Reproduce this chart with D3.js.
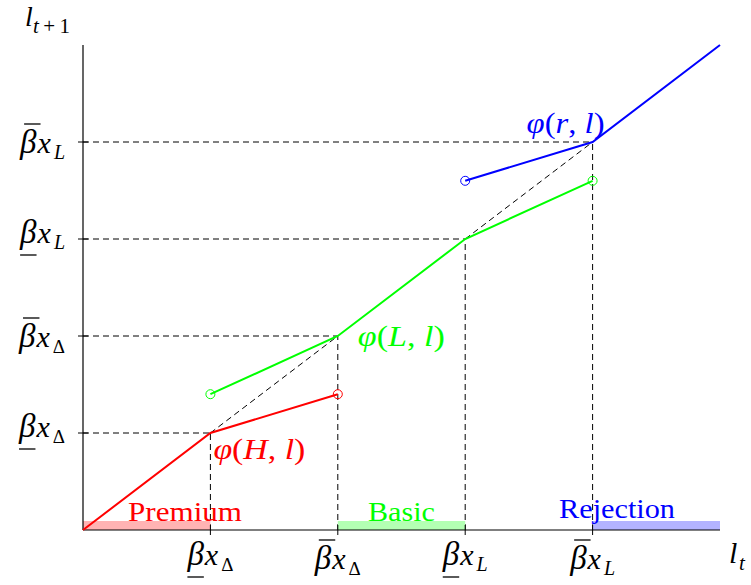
<!DOCTYPE html>
<html>
<head>
<meta charset="utf-8">
<script src="https://cdn.jsdelivr.net/npm/d3@7"></script>
<style>
  html, body { margin: 0; padding: 0; background: #fff; }
  svg { display: block; }
</style>
</head>
<body>
<svg id="chart" width="751" height="585"></svg>
<script>
// ---------- data ----------
const tickValues = [1, 2, 3, 4];
const tickBars = ["under", "over", "under", "over"];
const tickSubs = ["Δ", "Δ", "L", "L"];

const redLine = [[0, 0], [1, 1], [2, 1.4]];
const redOpen = [[2, 1.4]];
const greenLine = [[1, 1.4], [2, 2], [3, 3], [4, 3.6]];
const greenOpen = [[1, 1.4], [4, 3.6]];
const blueLine = [[3, 3.6], [4, 4], [5, 5]];
const blueOpen = [[3, 3.6]];
const diagonals = [[[1, 1], [2, 2]], [[3, 3], [4, 4]]];

const regionNames = ["Premium", "Basic", "Rejection"];
const regionStarts = [0, 2, 4];
const regionEnds = [1, 3, 5];

const curveLabelTexts = ["H", "L", "r"];
const curveLabelAnchors = [[1, 1], [2, 2], [4, 4]];

// ---------- setup ----------
const FONT = "'Liberation Serif', 'DejaVu Serif', serif";
const RED = "#ff0000", GREEN = "#00ff00", BLUE = "#0000ff";
const colors = [RED, GREEN, BLUE];
const fills = ["#ffb3b3", "#b3ffb3", "#b3b3ff"];

const svg = d3.select("#chart");
const x = d3.scaleLinear().domain([0, 5]).range([83, 720]);
const y = d3.scaleLinear().domain([0, 5]).range([530, 45]);
const line = d3.line().x(d => x(d[0])).y(d => y(d[1]));

// dashed guide lines
const guides = svg.append("g").attr("stroke", "#000").attr("stroke-width", 1)
  .attr("stroke-dasharray", "6,4").attr("fill", "none");
tickValues.forEach(v => {
  guides.append("line").attr("x1", x(0)).attr("x2", x(v)).attr("y1", y(v)).attr("y2", y(v));
  guides.append("line").attr("x1", x(v)).attr("x2", x(v)).attr("y1", y(0)).attr("y2", y(v));
});
diagonals.forEach(d => guides.append("path").attr("d", line(d)));

// region bars
regionNames.forEach((name, i) => {
  svg.append("rect")
    .attr("x", x(regionStarts[i])).attr("width", x(regionEnds[i]) - x(regionStarts[i]))
    .attr("y", y(0) - 9).attr("height", 9).attr("fill", fills[i]);
});

// axes
svg.append("line").attr("x1", x(0)).attr("x2", x(5)).attr("y1", y(0)).attr("y2", y(0))
  .attr("stroke", "#000").attr("stroke-width", 1.2);
svg.append("line").attr("x1", x(0)).attr("x2", x(0)).attr("y1", y(0)).attr("y2", y(5))
  .attr("stroke", "#000").attr("stroke-width", 1.2);
tickValues.forEach(v => {
  svg.append("line").attr("x1", x(v)).attr("x2", x(v)).attr("y1", y(0) - 5).attr("y2", y(0) + 5)
    .attr("stroke", "#000").attr("stroke-width", 1);
  svg.append("line").attr("x1", x(0) - 5).attr("x2", x(0) + 5).attr("y1", y(v)).attr("y2", y(v))
    .attr("stroke", "#000").attr("stroke-width", 1);
});

// region labels
const regionLeft = [128, 368, 559];
const regionWidth = [114, 67, 116];
const regionBaselines = [521, 521, 518];
regionNames.forEach((name, i) => {
  svg.append("text").attr("x", regionLeft[i]).attr("y", regionBaselines[i])
    .attr("font-family", FONT).attr("font-size", 27)
    .attr("textLength", regionWidth[i]).attr("lengthAdjust", "spacingAndGlyphs")
    .attr("fill", colors[i]).text(name);
});

// curves
[[redLine, redOpen], [greenLine, greenOpen], [blueLine, blueOpen]].forEach(([ln, op], i) => {
  svg.append("path").attr("d", line(ln)).attr("fill", "none")
    .attr("stroke", colors[i]).attr("stroke-width", 2);
  op.forEach(p => svg.append("circle").attr("cx", x(p[0])).attr("cy", y(p[1])).attr("r", 4.5)
    .attr("fill", "none").attr("stroke", colors[i]).attr("stroke-width", 1));
});

// curve labels φ(·,l)
const labelOffsets = [[3, 26], [20, 10], [-66, -9]];
const labelWidths = [92, 87, 78];
curveLabelTexts.forEach((lab, i) => {
  const a = curveLabelAnchors[i];
  const t = svg.append("text").attr("x", x(a[0]) + labelOffsets[i][0]).attr("y", y(a[1]) + labelOffsets[i][1])
    .attr("font-family", FONT).attr("font-size", 29).attr("fill", colors[i])
    .attr("textLength", labelWidths[i]).attr("lengthAdjust", "spacingAndGlyphs");
  t.append("tspan").attr("font-style", "italic").text("φ");
  t.append("tspan").text("(");
  t.append("tspan").attr("font-style", "italic").text(lab);
  t.append("tspan").text(", ");
  t.append("tspan").attr("font-style", "italic").text("l");
  t.append("tspan").text(")");
});

// beta tick labels
function betaLabel(px, baseline, bar, sub, anchor) {
  const g = svg.append("g");
  const b = g.append("text").attr("y", baseline).attr("font-family", FONT)
    .attr("font-size", 33).attr("font-style", "italic").text("β");
  const xx = g.append("text").attr("y", baseline).attr("font-family", FONT)
    .attr("font-size", 30).attr("font-style", "italic").text("x");
  const s = g.append("text").attr("y", baseline + 6).attr("font-family", FONT)
    .attr("font-size", sub === "L" ? 20 : 19)
    .attr("font-style", sub === "L" ? "italic" : "normal").text(sub);
  const bw = b.node().getComputedTextLength() + 1;
  const xw = xx.node().getComputedTextLength() + 3;
  const sw = s.node().getComputedTextLength();
  const w = bw + xw + sw;
  const x0 = anchor === "end" ? px - w : px - w / 2;
  b.attr("x", x0);
  xx.attr("x", x0 + bw);
  s.attr("x", x0 + bw + xw);
  const by = bar === "over" ? baseline - 29 : baseline + 12;
  const shift = bar === "over" ? 4 : 0;
  g.append("line").attr("x1", x0 + shift).attr("x2", x0 + shift + bw - 1)
    .attr("y1", by).attr("y2", by).attr("stroke", "#000").attr("stroke-width", 1.3);
}
tickValues.forEach((v, i) => {
  const over = tickBars[i] === "over";
  betaLabel(x(v), over ? 569 : 565, tickBars[i], tickSubs[i], "middle");
  betaLabel(65, y(v) + (over ? 11 : 4), tickBars[i], tickSubs[i], "end");
});

// axis titles
svg.append("text").attr("x", 25).attr("y", 26).attr("font-family", FONT)
  .attr("font-size", 28).attr("font-style", "italic").text("l");
const ysub = svg.append("text").attr("x", 33).attr("y", 33).attr("font-family", FONT)
  .attr("font-size", 21).attr("textLength", 37).attr("lengthAdjust", "spacing");
ysub.append("tspan").attr("font-style", "italic").text("t");
ysub.append("tspan").text("+1");

svg.append("text").attr("x", 729).attr("y", 563).attr("font-family", FONT)
  .attr("font-size", 30).attr("font-style", "italic").text("l");
svg.append("text").attr("x", 739).attr("y", 570).attr("font-family", FONT)
  .attr("font-size", 21).attr("font-style", "italic").text("t");
</script>
</body>
</html>
